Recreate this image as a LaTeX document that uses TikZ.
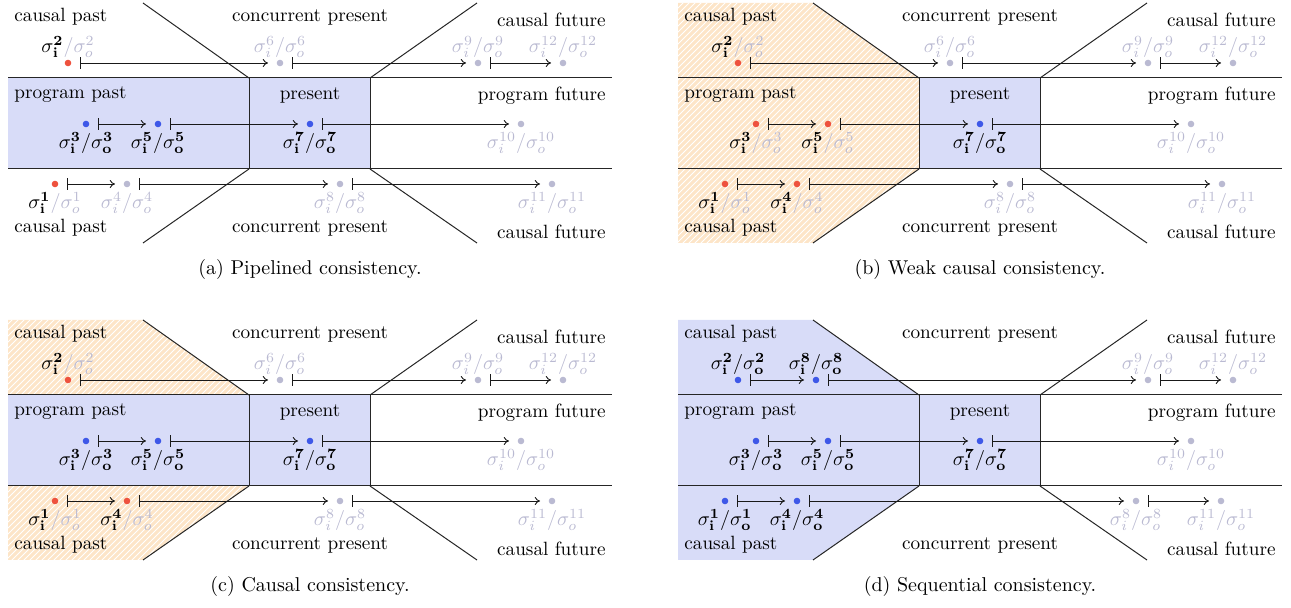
\documentclass[tikz,border=0pt]{standalone}
\usepackage{xcolor}
\usetikzlibrary{patterns,arrows.meta}
\definecolor{gry}{RGB}{186,186,210}
\definecolor{evred}{RGB}{238,82,62}
\definecolor{evblue}{RGB}{62,88,232}
\definecolor{bandblue}{RGB}{216,220,248}
\definecolor{orfill}{RGB}{253,229,200}
\newcommand{\labB}[1]{$\sigma^{\mathbf{#1}}_{\mathbf{i}}/\sigma^{\mathbf{#1}}_{\mathbf{o}}$}
\newcommand{\labR}[1]{$\sigma^{\mathbf{#1}}_{\mathbf{i}}$\textcolor{gry}{$/\sigma^{#1}_{o}$}}
\newcommand{\labG}[1]{\textcolor{gry}{$\sigma^{#1}_{i}/\sigma^{#1}_{o}$}}
\tikzset{
  frame/.style={line width=0.5pt, black!85},
  txt/.style={font=\fontsize{9.6}{11}\selectfont, inner sep=0pt},
  captxt/.style={font=\fontsize{10}{12}\selectfont, inner sep=0pt},
  dotR/.style={circle, fill=evred, inner sep=0pt, minimum size=3.3pt},
  dotB/.style={circle, fill=evblue, inner sep=0pt, minimum size=3.3pt},
  dotG/.style={circle, fill=gry, inner sep=0pt, minimum size=3.3pt},
  ev/.style={{Bar[width=6pt]}-{To[length=2.6pt,width=4pt]}, line width=0.45pt, black!90, shorten <=6pt, shorten >=6pt},
  bluefill/.style={fill=bandblue},
  orangefill/.style={fill=orfill},
  hatch/.style={pattern=north east lines, pattern color=white},
}
% event: name, x, y, dot style, label y, label text
\newcommand{\evt}[6]{\node[#4] (#1) at (#2,#3) {}; \node[txt] (#1l) at (#2,#5) {#6};}
\newcommand{\skel}[1]{%
  \draw[frame] (8,78) -- (612,78);
  \draw[frame] (8,169) -- (612,169);
  \draw[frame] (249,78) -- (249,169);
  \draw[frame] (370,78) -- (370,169);
  \draw[frame] (249,78) -- (143,3);
  \draw[frame] (370,78) -- (477,3);
  \draw[frame] (249,169) -- (143,243);
  \draw[frame] (370,169) -- (477,243);
  \node[txt, anchor=west] (cpt) at (14,17) {causal past};
  \node[txt] (cnt) at (310,17) {concurrent present};
  \node[txt, anchor=east] (cft) at (606,20) {causal future};
  \node[txt, anchor=west] (pp) at (14,95) {program past};
  \node[txt] (pr) at (310,95) {present};
  \node[txt, anchor=east] (pf) at (606,96) {program future};
  \node[txt, anchor=west] (cpb) at (14,228) {causal past};
  \node[txt] (cnb) at (310,228) {concurrent present};
  \node[txt, anchor=east] (cfb) at (606,232) {causal future};
  \node[captxt] (cap) at (310,270) {#1};
}
\begin{document}
\begin{tikzpicture}[x=0.5pt,y=-0.5pt]
\useasboundingbox (0,0) rectangle (1291,608);
% ---------------- (a)
\begin{scope}[name prefix=a-]
  \fill[bluefill] (8,78) rectangle (370,169);
  \skel{(a) Pipelined consistency.}
  \evt{t2}{68}{63}{dotR}{47}{\labR{2}}
  \evt{t6}{280}{63}{dotG}{47}{\labG{6}}
  \evt{t9}{478}{63}{dotG}{47}{\labG{9}}
  \evt{t12}{563}{63}{dotG}{47}{\labG{12}}
  \evt{m3}{86}{124}{dotB}{143}{\labB{3}}
  \evt{m5}{158}{124}{dotB}{143}{\labB{5}}
  \evt{m7}{310}{124}{dotB}{143}{\labB{7}}
  \evt{m10}{521}{124}{dotG}{143}{\labG{10}}
  \evt{b1}{55}{184}{dotR}{203}{\labR{1}}
  \evt{b4}{127}{184}{dotG}{203}{\labG{4}}
  \evt{b8}{340}{184}{dotG}{203}{\labG{8}}
  \evt{b11}{552}{184}{dotG}{203}{\labG{11}}
  \draw[ev] (t2.center) -- (t6.center);
  \draw[ev] (t6.center) -- (t9.center);
  \draw[ev] (t9.center) -- (t12.center);
  \draw[ev] (m3.center) -- (m5.center);
  \draw[ev] (m5.center) -- (m7.center);
  \draw[ev] (m7.center) -- (m10.center);
  \draw[ev] (b1.center) -- (b4.center);
  \draw[ev] (b4.center) -- (b8.center);
  \draw[ev] (b8.center) -- (b11.center);
\end{scope}
% ---------------- (b)
\begin{scope}[shift={(670,0)}, name prefix=b-]
  \fill[orangefill] (8,3) -- (143,3) -- (249,78) -- (249,169) -- (143,243) -- (8,243) -- cycle;
  \fill[hatch] (8,3) -- (143,3) -- (249,78) -- (249,169) -- (143,243) -- (8,243) -- cycle;
  \fill[bluefill] (249,78) rectangle (370,169);
  \skel{(b) Weak causal consistency.}
  \evt{t2}{68}{63}{dotR}{47}{\labR{2}}
  \evt{t6}{280}{63}{dotG}{47}{\labG{6}}
  \evt{t9}{478}{63}{dotG}{47}{\labG{9}}
  \evt{t12}{563}{63}{dotG}{47}{\labG{12}}
  \evt{m3}{86}{124}{dotR}{143}{\labR{3}}
  \evt{m5}{158}{124}{dotR}{143}{\labR{5}}
  \evt{m7}{310}{124}{dotB}{143}{\labB{7}}
  \evt{m10}{521}{124}{dotG}{143}{\labG{10}}
  \evt{b1}{55}{184}{dotR}{203}{\labR{1}}
  \evt{b4}{127}{184}{dotR}{203}{\labR{4}}
  \evt{b8}{340}{184}{dotG}{203}{\labG{8}}
  \evt{b11}{552}{184}{dotG}{203}{\labG{11}}
  \draw[ev] (t2.center) -- (t6.center);
  \draw[ev] (t6.center) -- (t9.center);
  \draw[ev] (t9.center) -- (t12.center);
  \draw[ev] (m3.center) -- (m5.center);
  \draw[ev] (m5.center) -- (m7.center);
  \draw[ev] (m7.center) -- (m10.center);
  \draw[ev] (b1.center) -- (b4.center);
  \draw[ev] (b4.center) -- (b8.center);
  \draw[ev] (b8.center) -- (b11.center);
\end{scope}
% ---------------- (c)
\begin{scope}[shift={(0,317)}, name prefix=c-]
  \fill[orangefill] (8,3) -- (143,3) -- (249,78) -- (8,78) -- cycle;
  \fill[hatch] (8,3) -- (143,3) -- (249,78) -- (8,78) -- cycle;
  \fill[orangefill] (8,169) -- (249,169) -- (143,243) -- (8,243) -- cycle;
  \fill[hatch] (8,169) -- (249,169) -- (143,243) -- (8,243) -- cycle;
  \fill[bluefill] (8,78) rectangle (370,169);
  \skel{(c) Causal consistency.}
  \evt{t2}{68}{63}{dotR}{47}{\labR{2}}
  \evt{t6}{280}{63}{dotG}{47}{\labG{6}}
  \evt{t9}{478}{63}{dotG}{47}{\labG{9}}
  \evt{t12}{563}{63}{dotG}{47}{\labG{12}}
  \evt{m3}{86}{124}{dotB}{143}{\labB{3}}
  \evt{m5}{158}{124}{dotB}{143}{\labB{5}}
  \evt{m7}{310}{124}{dotB}{143}{\labB{7}}
  \evt{m10}{521}{124}{dotG}{143}{\labG{10}}
  \evt{b1}{55}{184}{dotR}{203}{\labR{1}}
  \evt{b4}{127}{184}{dotR}{203}{\labR{4}}
  \evt{b8}{340}{184}{dotG}{203}{\labG{8}}
  \evt{b11}{552}{184}{dotG}{203}{\labG{11}}
  \draw[ev] (t2.center) -- (t6.center);
  \draw[ev] (t6.center) -- (t9.center);
  \draw[ev] (t9.center) -- (t12.center);
  \draw[ev] (m3.center) -- (m5.center);
  \draw[ev] (m5.center) -- (m7.center);
  \draw[ev] (m7.center) -- (m10.center);
  \draw[ev] (b1.center) -- (b4.center);
  \draw[ev] (b4.center) -- (b8.center);
  \draw[ev] (b8.center) -- (b11.center);
\end{scope}
% ---------------- (d)
\begin{scope}[shift={(670,317)}, name prefix=d-]
  \fill[bluefill] (8,3) -- (143,3) -- (249,78) -- (370,78) -- (370,169) -- (249,169) -- (143,243) -- (8,243) -- cycle;
  \skel{(d) Sequential consistency.}
  \evt{t2}{68}{63}{dotB}{47}{\labB{2}}
  \evt{t8}{146}{63}{dotB}{47}{\labB{8}}
  \evt{t9}{478}{63}{dotG}{47}{\labG{9}}
  \evt{t12}{563}{63}{dotG}{47}{\labG{12}}
  \evt{m3}{86}{124}{dotB}{143}{\labB{3}}
  \evt{m5}{158}{124}{dotB}{143}{\labB{5}}
  \evt{m7}{310}{124}{dotB}{143}{\labB{7}}
  \evt{m10}{521}{124}{dotG}{143}{\labG{10}}
  \evt{b1}{55}{184}{dotB}{203}{\labB{1}}
  \evt{b4}{127}{184}{dotB}{203}{\labB{4}}
  \evt{b8}{466}{184}{dotG}{203}{\labG{8}}
  \evt{b11}{551}{184}{dotG}{203}{\labG{11}}
  \draw[ev] (t2.center) -- (t8.center);
  \draw[ev] (t8.center) -- (t9.center);
  \draw[ev] (t9.center) -- (t12.center);
  \draw[ev] (m3.center) -- (m5.center);
  \draw[ev] (m5.center) -- (m7.center);
  \draw[ev] (m7.center) -- (m10.center);
  \draw[ev] (b1.center) -- (b4.center);
  \draw[ev] (b4.center) -- (b8.center);
  \draw[ev] (b8.center) -- (b11.center);
\end{scope}
\end{tikzpicture}
\end{document}
